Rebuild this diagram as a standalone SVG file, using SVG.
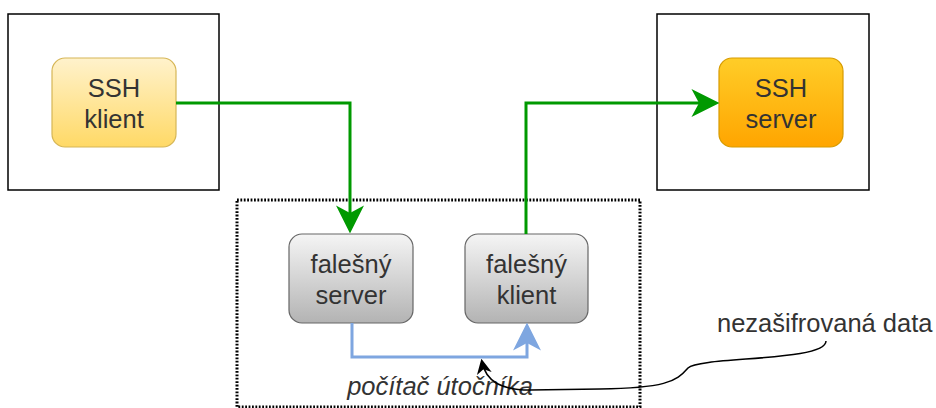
<svg xmlns="http://www.w3.org/2000/svg" width="936" height="408" viewBox="0 0 936 408">
  <style>
    .frame { fill: #ffffff; stroke: #000000; stroke-width: 1.5; }
    .lbl { font-family: "Liberation Sans", Arial, sans-serif; font-size: 25.5px; fill: #333333; text-anchor: middle; }
    .note { font-family: "Liberation Sans", Arial, sans-serif; font-size: 25.5px; fill: #333333; }
    .green { fill: none; stroke: #009900; stroke-width: 3; }
    .blue { fill: none; stroke: #7EA6E0; stroke-width: 3; }
  </style>
  <defs>
    <linearGradient id="gYellow" x1="0" y1="0" x2="0" y2="1">
      <stop offset="0" stop-color="#FFF2CC"/>
      <stop offset="1" stop-color="#FFD966"/>
    </linearGradient>
    <linearGradient id="gOrange" x1="0" y1="0" x2="0" y2="1">
      <stop offset="0" stop-color="#FFCD28"/>
      <stop offset="1" stop-color="#FFA500"/>
    </linearGradient>
    <linearGradient id="gGray" x1="0" y1="0" x2="0" y2="1">
      <stop offset="0" stop-color="#F5F5F5"/>
      <stop offset="1" stop-color="#B3B3B3"/>
    </linearGradient>
    <marker id="arrGreen" markerUnits="userSpaceOnUse" markerWidth="28" markerHeight="28" viewBox="0 0 26 26" refX="20" refY="13" orient="auto">
      <path d="M0,0 L26,13 L0,26 L7,13 Z" fill="#009900"/>
    </marker>
    <marker id="arrBlue" markerUnits="userSpaceOnUse" markerWidth="28" markerHeight="28" viewBox="0 0 26 26" refX="20" refY="13" orient="auto">
      <path d="M0,0 L26,13 L0,26 L7,13 Z" fill="#7EA6E0"/>
    </marker>
    <marker id="arrBlack" markerUnits="userSpaceOnUse" markerWidth="15" markerHeight="15" viewBox="0 0 14 14" refX="11" refY="7" orient="auto">
      <path d="M0,0 L14,7 L0,14 L4,7 Z" fill="#000000"/>
    </marker>
  </defs>

  <!-- machines -->
  <g id="client-machine">
    <rect class="frame" x="8" y="14" width="211" height="176"/>
  </g>
  <g id="server-machine">
    <rect class="frame" x="657" y="14" width="212" height="176"/>
  </g>
  <g id="attacker-machine">
    <rect x="237" y="200" width="403" height="207" fill="none" stroke="#000000" stroke-width="3" stroke-dasharray="1.8 1.6"/>
    <text class="note" x="440" y="395" text-anchor="middle" font-style="italic">počítač útočníka</text>
  </g>

  <!-- nodes -->
  <g id="ssh-client">
    <rect x="52" y="58" width="124" height="89" rx="13" fill="url(#gYellow)" stroke="#D6B656" stroke-width="1.2"/>
    <text class="lbl" x="114" y="97">SSH</text>
    <text class="lbl" x="114" y="128">klient</text>
  </g>
  <g id="ssh-server">
    <rect x="719" y="58" width="124" height="89" rx="13" fill="url(#gOrange)" stroke="#D79B00" stroke-width="1.2"/>
    <text class="lbl" x="781" y="97">SSH</text>
    <text class="lbl" x="781" y="128">server</text>
  </g>
  <g id="fake-server">
    <rect x="289" y="234" width="124" height="89" rx="13" fill="url(#gGray)" stroke="#666666" stroke-width="1.2"/>
    <text class="lbl" x="351" y="273">falešný</text>
    <text class="lbl" x="351" y="304">server</text>
  </g>
  <g id="fake-client">
    <rect x="465" y="234" width="123" height="89" rx="13" fill="url(#gGray)" stroke="#666666" stroke-width="1.2"/>
    <text class="lbl" x="526.5" y="273">falešný</text>
    <text class="lbl" x="526.5" y="304">klient</text>
  </g>
  <g id="plaintext-note">
    <text class="note" x="717" y="332">nezašifrovaná data</text>
  </g>

  <!-- connectors -->
  <g id="connectors">
    <path class="green" d="M176,103 H350 V227" marker-end="url(#arrGreen)"/>
    <path class="green" d="M526,234 V103 H713" marker-end="url(#arrGreen)"/>
    <path class="blue" d="M352,323 V357 H527 V329" marker-end="url(#arrBlue)"/>
    <path d="M826,341 C826,362 700,356 688,368 C676,382 664,388 600,389 L530,390 C502,390 486,382 482,362" fill="none" stroke="#000000" stroke-width="1.5" marker-end="url(#arrBlack)"/>
  </g>
</svg>
